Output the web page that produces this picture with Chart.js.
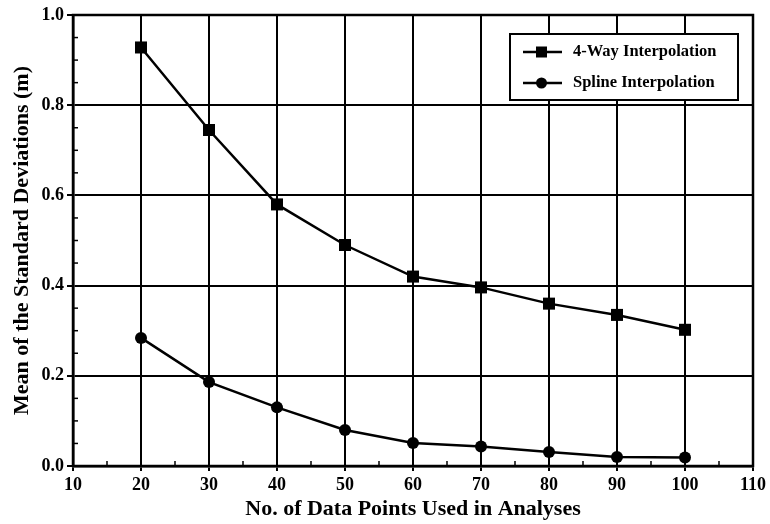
<!DOCTYPE html>
<html>
<head>
<meta charset="utf-8">
<script src="https://cdn.jsdelivr.net/npm/chart.js@4/dist/chart.umd.min.js"></script>
<style>
  html, body { margin: 0; padding: 0; background: #fff; }
  #wrap { width: 770px; height: 524px; }
</style>
</head>
<body>
<div id="wrap"><canvas id="grafico" width="770" height="524"></canvas></div>
<script>
const pontosX = [20, 30, 40, 50, 60, 70, 80, 90, 100];
const quatroVias = [0.928, 0.745, 0.58, 0.49, 0.42, 0.396, 0.36, 0.335, 0.302];
const spline = [0.284, 0.186, 0.13, 0.08, 0.051, 0.043, 0.031, 0.02, 0.019];
const nomes = ["4-Way Interpolation", "Spline Interpolation"];
const tituloX = "No. of Data Points Used in Analyses";
const tituloY = "Mean of the Standard Deviations (m)";

const fonte = "'Liberation Serif', 'DejaVu Serif', serif";

// minor ticks pointing inward + frame + legend box
const extras = {
  id: "extras",
  afterDraw(chart) {
    const ctx = chart.ctx;
    const a = chart.chartArea;
    const sx = chart.scales.x, sy = chart.scales.y;
    ctx.save();
    ctx.strokeStyle = "#000";
    ctx.lineWidth = 1.5;
    for (let v = 15; v < 110; v += 10) {
      const px = sx.getPixelForValue(v);
      ctx.beginPath(); ctx.moveTo(px, a.bottom); ctx.lineTo(px, a.bottom - 5); ctx.stroke();
    }
    for (let i = 1; i < 20; i += 1) {
      if (i % 4 === 0) continue;
      const py = sy.getPixelForValue(i * 0.05);
      ctx.beginPath(); ctx.moveTo(a.left, py); ctx.lineTo(a.left + 5, py); ctx.stroke();
    }
    ctx.lineWidth = 2.5;
    ctx.strokeRect(a.left, a.top, a.right - a.left, a.bottom - a.top);

    // legend
    const lx = 510, ly = 34, lw = 228, lh = 66;
    ctx.fillStyle = "#fff";
    ctx.fillRect(lx, ly, lw, lh);
    ctx.lineWidth = 2;
    ctx.strokeRect(lx, ly, lw, lh);
    ctx.font = "bold 16.5px " + fonte;
    ctx.textBaseline = "middle";
    chart.data.datasets.forEach((ds, k) => {
      const y = ly + 18 + k * 31;
      ctx.strokeStyle = "#000";
      ctx.lineWidth = 2.5;
      ctx.beginPath(); ctx.moveTo(523, y); ctx.lineTo(562, y); ctx.stroke();
      ctx.fillStyle = "#000";
      if (ds.pointStyle === "rect") {
        ctx.fillRect(536, y - 5.5, 11, 11);
      } else {
        ctx.beginPath(); ctx.arc(541.5, y, 5.5, 0, Math.PI * 2); ctx.fill();
      }
      ctx.fillText(ds.label, 573, y);
    });
    ctx.restore();
  }
};

new Chart(document.getElementById("grafico"), {
  type: "line",
  data: {
    datasets: [
      {
        label: nomes[0],
        data: pontosX.map((x, i) => ({ x: x, y: quatroVias[i] })),
        borderColor: "#000",
        backgroundColor: "#000",
        borderWidth: 2.5,
        pointStyle: "rect",
        pointRadius: 8.5,
        pointBorderWidth: 0,
        tension: 0
      },
      {
        label: nomes[1],
        data: pontosX.map((x, i) => ({ x: x, y: spline[i] })),
        borderColor: "#000",
        backgroundColor: "#000",
        borderWidth: 2.5,
        pointStyle: "circle",
        pointRadius: 6,
        pointBorderWidth: 0,
        tension: 0
      }
    ]
  },
  options: {
    responsive: false,
    animation: false,
    layout: { padding: { left: 0, right: 14, top: 15, bottom: 0 } },
    plugins: {
      legend: { display: false },
      tooltip: { enabled: false }
    },
    scales: {
      x: {
        type: "linear",
        min: 10,
        max: 110,
        afterFit: (s) => { s.height = 58; },
        ticks: {
          stepSize: 10,
          color: "#000",
          padding: 4,
          font: { family: fonte, size: 18, weight: "bold" }
        },
        grid: { color: "#000", lineWidth: 2, tickLength: 5, drawTicks: true },
        border: { color: "#000", width: 2.5 },
        title: {
          display: true,
          text: tituloX,
          color: "#000",
          padding: { top: 0, bottom: 1 },
          font: { family: fonte, size: 22, weight: "bold" }
        }
      },
      y: {
        type: "linear",
        min: 0,
        max: 1,
        afterFit: (s) => { s.width = 73; },
        ticks: {
          stepSize: 0.2,
          color: "#000",
          padding: 3,
          callback: (v) => v.toFixed(1),
          font: { family: fonte, size: 18, weight: "bold" }
        },
        grid: { color: "#000", lineWidth: 2, tickLength: 6, drawTicks: true },
        border: { color: "#000", width: 2.5 },
        title: {
          display: true,
          text: tituloY,
          color: "#000",
          padding: { top: 9, bottom: 0 },
          font: { family: fonte, size: 22, weight: "bold" }
        }
      }
    }
  },
  plugins: [extras]
});
</script>
</body>
</html>
